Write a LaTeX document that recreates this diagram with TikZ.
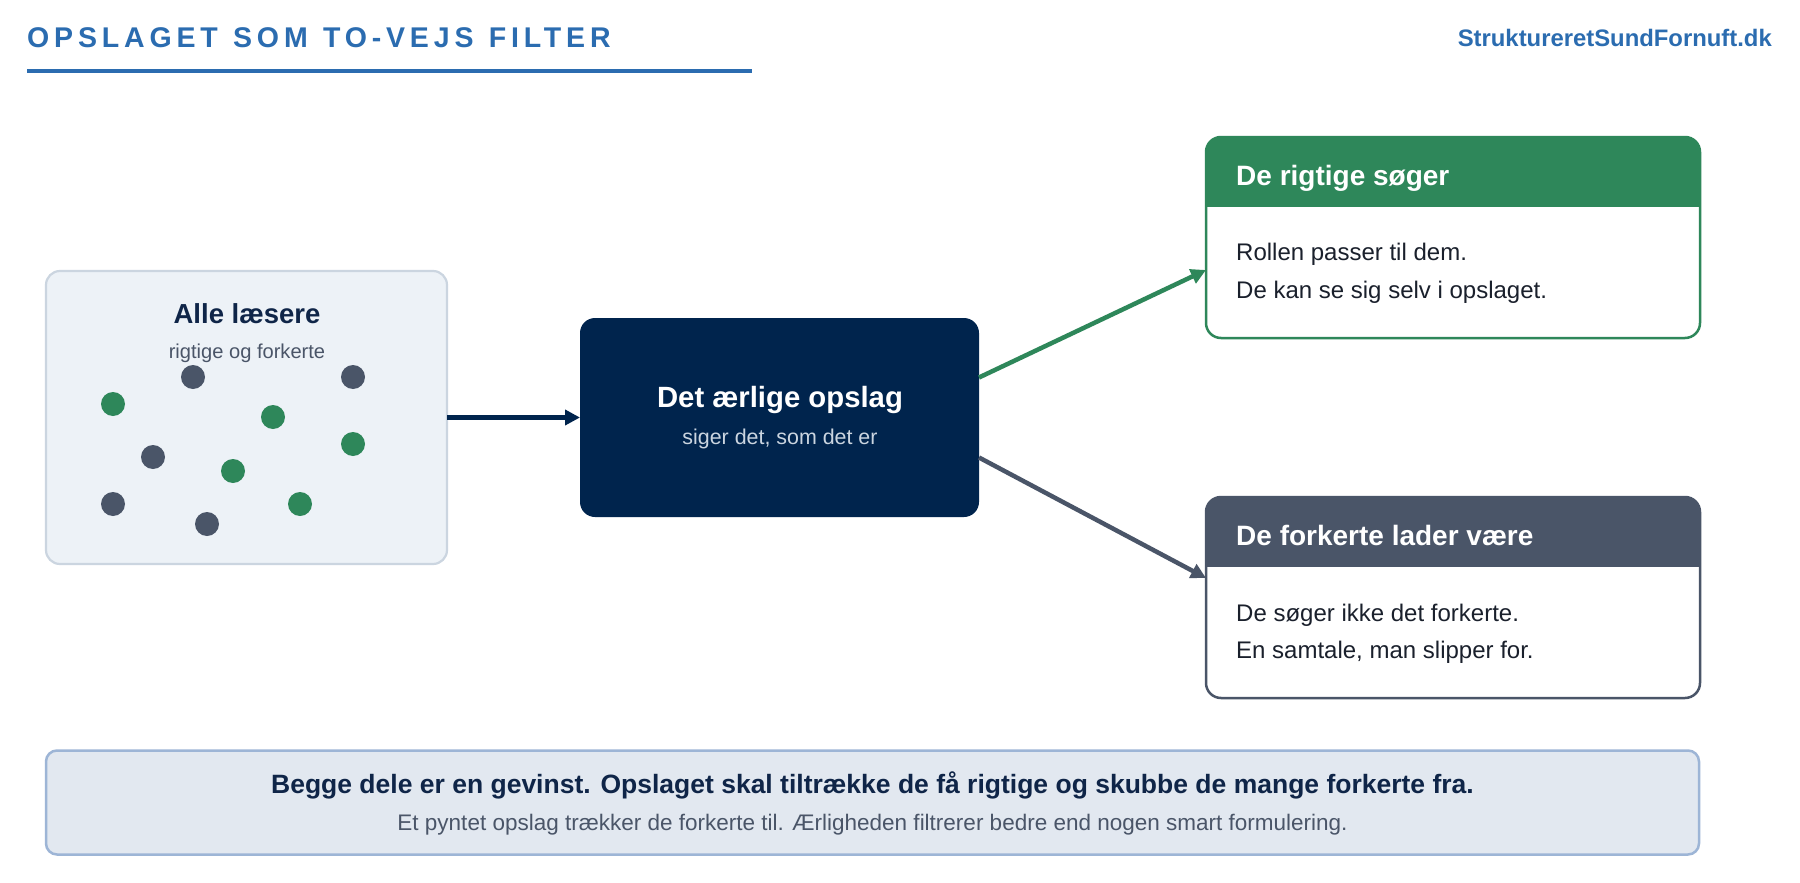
\documentclass[tikz,border=0pt]{standalone}
\usepackage{fontspec}
\setmainfont{Liberation Sans}
\newfontfamily\titlefont{Liberation Sans}[LetterSpace=17]
\usetikzlibrary{arrows.meta}
\definecolor{titleblue}{HTML}{2B6CB0}
\definecolor{navy}{HTML}{00244D}
\definecolor{navytext}{HTML}{0F2548}
\definecolor{okgreen}{HTML}{2E875A}
\definecolor{slate}{HTML}{4A5568}
\definecolor{leftfill}{HTML}{EDF2F7}
\definecolor{leftborder}{HTML}{CBD5E0}
\definecolor{bannerfill}{HTML}{E2E8F0}
\definecolor{bannerborder}{HTML}{9DB5D6}
\definecolor{bodytext}{HTML}{1A202C}
\definecolor{lighttext}{HTML}{CBD5E0}
\newcommand{\wsp}{ \hspace{2.5pt}}
\tikzset{
  box/.style={rectangle, inner sep=0pt, outer sep=0pt},
  dotgreen/.style={fill=okgreen},
  dotgray/.style={fill=slate},
  conn/.style={line width=4.5pt, -{Triangle[length=15pt,width=15pt]}},
  headtxt/.style={anchor=base west, text=white, font=\fontsize{28}{32}\selectfont\bfseries, inner sep=0pt},
  bodytxt/.style={anchor=base west, text=bodytext, font=\fontsize{24}{28}\selectfont, inner sep=0pt},
}
\begin{document}
\begin{tikzpicture}[x=1pt,y=-1pt]
\useasboundingbox (0,0) rectangle (1800,883);
\fill[white] (0,0) rectangle (1800,883);

% title
\node[anchor=base west, inner sep=0pt, text=titleblue, font=\titlefont\fontsize{28.5}{32}\selectfont\bfseries] (title) at (27,47.3) {OPSLAGET\wsp SOM\wsp TO-VEJS\wsp FILTER};
\coordinate (ulA) at (27,71);
\coordinate (ulB) at (752,71);
\draw[titleblue, line width=3.6pt] (ulA) -- (ulB);
\node[anchor=base east, inner sep=0pt, text=titleblue, font=\fontsize{23.85}{28}\selectfont\bfseries] (site) at (1772,47) {StruktureretSundFornuft.dk};

% left box
\node[box, draw=leftborder, fill=leftfill, line width=2.2pt, rounded corners=14pt, minimum width=401pt, minimum height=293pt] (left) at (246.5,417.5) {};
\node[anchor=base, inner sep=0pt, text=navytext, font=\fontsize{27.5}{31}\selectfont\bfseries] (lefttitle) at (247,323) {Alle læsere};
\node[anchor=base, inner sep=0pt, text=slate, font=\fontsize{20.1}{24}\selectfont] (leftsub) at (247,358) {rigtige og forkerte};
\foreach \x/\y in {193/377, 353/377, 153/457, 113/504, 207/524}
  \fill[dotgray] (\x,\y) circle (12pt);
\foreach \x/\y in {113/404, 273/417, 353/444, 233/471, 300/504}
  \fill[dotgreen] (\x,\y) circle (12pt);

% center box
\node[box, fill=navy, rounded corners=15pt, minimum width=399pt, minimum height=199pt] (center) at (779.5,417.5) {};
\node[anchor=base, inner sep=0pt, text=white, font=\fontsize{29.3}{34}\selectfont\bfseries] (ctitle) at (780,407) {Det ærlige opslag};
\node[anchor=base, inner sep=0pt, text=lighttext, font=\fontsize{21.4}{25}\selectfont] (csub) at (780,444) {siger det, som det er};

% top right box
\node[box, draw=okgreen, fill=white, line width=2.5pt, rounded corners=15pt, minimum width=494pt, minimum height=201pt] (good) at (1453,237.5) {};
\begin{scope}
  \clip[rounded corners=15pt] (good.north west) rectangle (good.south east);
  \fill[okgreen] (good.north west) rectangle (1700,207);
\end{scope}
\node[headtxt] (goodhead) at (1236,185) {De rigtige søger};
\node[bodytxt] (goodl1) at (1236,260) {Rollen passer til dem.};
\node[bodytxt] (goodl2) at (1236,298) {De kan se sig selv i opslaget.};

% bottom right box
\node[box, draw=slate, fill=white, line width=2.5pt, rounded corners=15pt, minimum width=494pt, minimum height=201pt] (bad) at (1453,597.5) {};
\begin{scope}
  \clip[rounded corners=15pt] (bad.north west) rectangle (bad.south east);
  \fill[slate] (bad.north west) rectangle (1700,567);
\end{scope}
\node[headtxt] (badhead) at (1236,545) {De forkerte lader være};
\node[bodytxt] (badl1) at (1236,621) {De søger ikke det forkerte.};
\node[bodytxt] (badl2) at (1236,658) {En samtale, man slipper for.};

% connectors
\draw[conn, navy] (left.east) -- (center.west);
\draw[conn, okgreen] ([yshift=40pt]center.east) -- ([yshift=-32.5pt]good.west);
\draw[conn, slate] ([yshift=-40pt]center.east) -- ([yshift=19.5pt]bad.west);

% banner
\node[box, draw=bannerborder, fill=bannerfill, line width=2.5pt, rounded corners=11pt, minimum width=1653pt, minimum height=104pt] (banner) at (872.5,802.5) {};
\node[anchor=base, inner sep=0pt, text=navytext, font=\fontsize{26.5}{30}\selectfont\bfseries] (bl1) at (872.5,793.3) {Begge dele er en gevinst. Opslaget skal tiltrække de få rigtige og skubbe de mange forkerte fra.};
\node[anchor=base, inner sep=0pt, text=slate, font=\fontsize{22.5}{26}\selectfont] (bl2) at (872.5,830) {Et pyntet opslag trækker de forkerte til. Ærligheden filtrerer bedre end nogen smart formulering.};
\end{tikzpicture}
\end{document}
